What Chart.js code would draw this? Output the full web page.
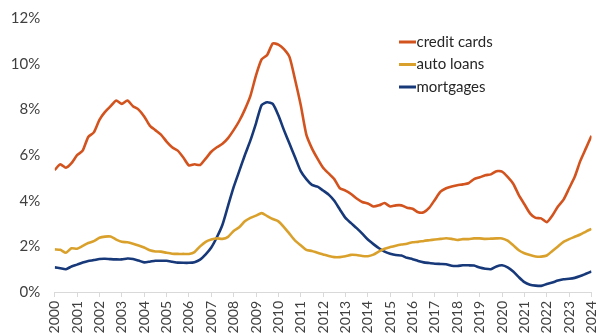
<!DOCTYPE html>
<html>
<head>
<meta charset="utf-8">
<script src="https://cdn.jsdelivr.net/npm/chart.js@4/dist/chart.umd.min.js"></script>
<style>
  html, body { margin: 0; padding: 0; background: #fff; overflow: hidden; }
  #wrap { position: relative; width: 597px; height: 345px; }
</style>
</head>
<body>
<div id="wrap"><canvas id="c" width="597" height="345"></canvas></div>
<script>
// Year tick labels on the horizontal axis
const years = [2000, 2001, 2002, 2003, 2004, 2005, 2006, 2007, 2008, 2009, 2010, 2011,
  2012, 2013, 2014, 2015, 2016, 2017, 2018, 2019, 2020, 2021, 2022, 2023, 2024];

// Quarterly periods, 2000 Q1 through 2024 Q1
const quarters = [];
years.forEach(y => { for (let q = 1; q <= 4; q++) { if (y < 2024 || q === 1) quarters.push(y + ' Q' + q); } });

// Y-axis tick values (%)
const yTicks = [0, 2, 4, 6, 8, 10, 12];

// Share of balances newly delinquent, % (quarterly)
const creditCards = [
  5.35, 5.6, 5.45, 5.65, 6.0, 6.2, 6.8, 7.0, 7.55, 7.9, 8.15, 8.4, 8.25, 8.4, 8.15, 8.0, 7.7, 7.3, 7.1, 6.9, 6.6, 6.35, 6.2, 5.9, 5.55,
  5.6, 5.57, 5.85, 6.15, 6.35, 6.5, 6.75, 7.1, 7.5, 8.0, 8.6, 9.5, 10.2, 10.4, 10.9, 10.85, 10.65, 10.3, 9.3, 8.2, 6.9, 6.3, 5.85, 5.45,
  5.2, 4.95, 4.55, 4.45, 4.3, 4.1, 3.95, 3.88, 3.75, 3.8, 3.9, 3.75, 3.8, 3.8, 3.7, 3.65, 3.5, 3.5, 3.7, 4.05, 4.4, 4.55, 4.63, 4.68,
  4.72, 4.77, 4.95, 5.03, 5.12, 5.16, 5.3, 5.28, 5.05, 4.75, 4.25, 3.85, 3.45, 3.25, 3.23, 3.06, 3.35, 3.75, 4.05, 4.55, 5.05, 5.75, 6.3, 6.85
];
const autoLoans = [
  1.87, 1.85, 1.72, 1.92, 1.9, 2.02, 2.15, 2.23, 2.38, 2.43, 2.43, 2.3, 2.2, 2.18, 2.12, 2.04, 1.95, 1.83, 1.78, 1.77, 1.72, 1.68, 1.67, 1.67, 1.67,
  1.75, 2.0, 2.2, 2.3, 2.35, 2.33, 2.42, 2.68, 2.84, 3.1, 3.25, 3.35, 3.46, 3.33, 3.2, 3.1, 2.85, 2.55, 2.25, 2.05, 1.85, 1.8, 1.72, 1.65,
  1.58, 1.53, 1.53, 1.57, 1.63, 1.62, 1.58, 1.57, 1.64, 1.78, 1.9, 1.97, 2.03, 2.08, 2.12, 2.18, 2.2, 2.24, 2.27, 2.3, 2.33, 2.36, 2.33, 2.28,
  2.32, 2.32, 2.35, 2.35, 2.33, 2.34, 2.35, 2.35, 2.25, 2.05, 1.83, 1.7, 1.62, 1.56, 1.55, 1.6, 1.8, 2.0, 2.2, 2.32, 2.42, 2.52, 2.65, 2.77
];
const mortgages = [
  1.08, 1.04, 1.0, 1.12, 1.2, 1.29, 1.36, 1.4, 1.45, 1.46, 1.44, 1.43, 1.43, 1.47, 1.45, 1.38, 1.3, 1.33, 1.37, 1.37, 1.37, 1.33, 1.29, 1.28, 1.28,
  1.31, 1.42, 1.65, 1.95, 2.4, 2.95, 3.78, 4.6, 5.3, 6.0, 6.65, 7.4, 8.2, 8.32, 8.25, 7.75, 7.1, 6.5, 5.9, 5.3, 4.95, 4.7, 4.62, 4.45,
  4.27, 4.0, 3.62, 3.25, 3.02, 2.8, 2.56, 2.3, 2.1, 1.92, 1.77, 1.68, 1.62, 1.6, 1.5, 1.44, 1.36, 1.3, 1.27, 1.24, 1.23, 1.22, 1.15, 1.14,
  1.17, 1.17, 1.16, 1.07, 1.02, 1.0, 1.12, 1.17, 1.08, 0.9, 0.65, 0.43, 0.32, 0.28, 0.27, 0.35, 0.42, 0.5, 0.56, 0.58, 0.62, 0.7, 0.8, 0.9
];

const seriesNames = ['credit cards', 'auto loans', 'mortgages'];
const seriesColors = ['#D2531E', '#D9A12C', '#17397A'];

// Convert "YYYY Qn" into a fractional year for the linear time axis
function periodToYear(p) {
  const [y, q] = p.split(' Q');
  return Number(y) + (Number(q) - 1) / 4;
}
function toPoints(values) {
  return values.map((v, i) => ({ x: periodToYear(quarters[i]), y: v }));
}

const FONT = 'Lato, "Open Sans", sans-serif';

// Legend drawn as short line swatches with labels inside the plot
const insideLegend = {
  id: 'insideLegend',
  afterDatasetsDraw(chart) {
    const ctx = chart.ctx;
    ctx.save();
    ctx.font = '15px ' + FONT;
    ctx.textBaseline = 'middle';
    ctx.textAlign = 'left';
    const x0 = 399, y0 = 42, step = 22.5;
    chart.data.datasets.forEach((ds, i) => {
      const y = y0 + i * step;
      ctx.strokeStyle = ds.borderColor;
      ctx.lineWidth = 3;
      ctx.beginPath();
      ctx.moveTo(x0, y);
      ctx.lineTo(x0 + 17, y);
      ctx.stroke();
      ctx.fillStyle = '#262626';
      ctx.fillText(ds.label, x0 + 17.5, y);
    });
    ctx.restore();
  }
};

new Chart(document.getElementById('c'), {
  type: 'line',
  data: {
    datasets: seriesNames.map((name, i) => ({
      label: name,
      data: toPoints([creditCards, autoLoans, mortgages][i]),
      borderColor: seriesColors[i],
      backgroundColor: seriesColors[i],
      borderWidth: 2.6,
      pointRadius: 0,
      tension: 0.2,
      fill: false
    }))
  },
  options: {
    responsive: false,
    animation: false,
    layout: { padding: { top: 18.4, right: 5.5, left: 0, bottom: 0 } },
    plugins: { legend: { display: false }, tooltip: { enabled: false } },
    scales: {
      x: {
        type: 'linear',
        min: years[0],
        max: years[years.length - 1],
        afterBuildTicks(scale) { scale.ticks = years.map(v => ({ value: v })); },
        afterFit(scale) { scale.paddingLeft = 0; scale.paddingRight = 0; scale.height = 53; },
        grid: { display: true, drawOnChartArea: false, drawTicks: true, tickLength: 5, color: '#d9d9d9', lineWidth: 1 },
        border: { display: true, color: '#d9d9d9', width: 1 },
        ticks: {
          autoSkip: false,
          minRotation: 90,
          maxRotation: 90,
          padding: 4,
          color: '#404040',
          font: { family: FONT, size: 14 },
          callback: v => String(v)
        }
      },
      y: {
        min: yTicks[0],
        max: yTicks[yTicks.length - 1],
        afterBuildTicks(scale) { scale.ticks = yTicks.map(v => ({ value: v })); },
        afterFit(scale) { scale.paddingTop = 0; scale.paddingBottom = 0; scale.width = 54.7; },
        grid: { display: false, drawTicks: false },
        border: { display: false },
        ticks: {
          padding: 14.5,
          color: '#404040',
          font: { family: FONT, size: 15 },
          callback: v => v + '%'
        }
      }
    }
  },
  plugins: [insideLegend]
});
</script>
</body>
</html>
